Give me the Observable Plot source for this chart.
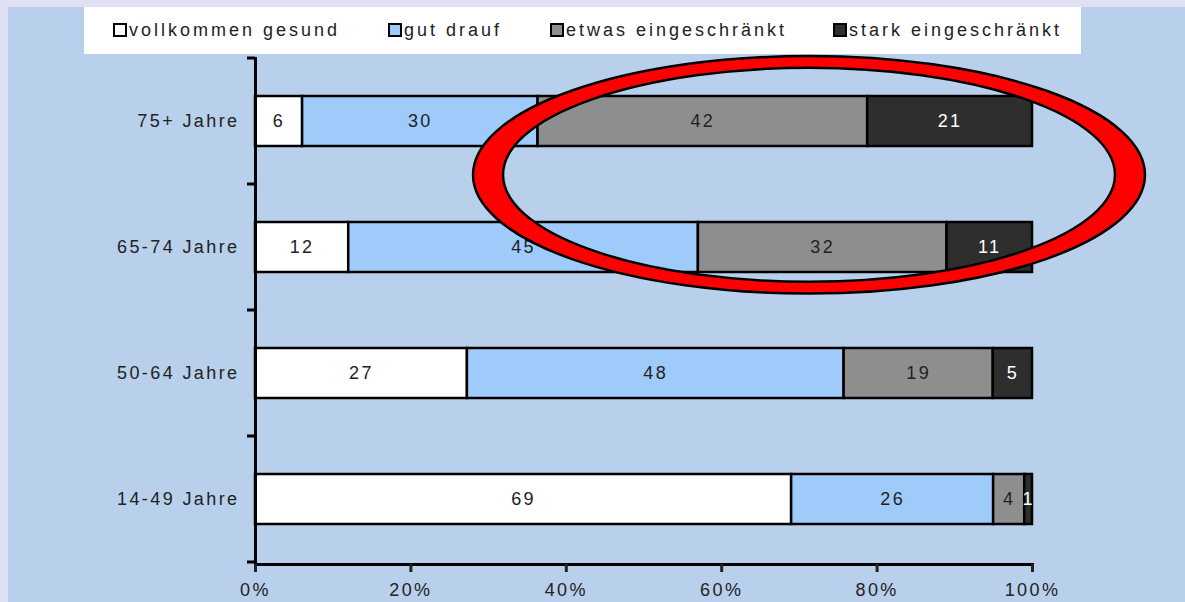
<!DOCTYPE html>
<html>
<head>
<meta charset="utf-8">
<script src="https://cdn.jsdelivr.net/npm/d3@7"></script>
<script src="https://cdn.jsdelivr.net/npm/@observablehq/plot@0.6"></script>
<style>
  html, body { margin: 0; padding: 0; }
  body { width: 1185px; height: 602px; overflow: hidden; background: #dfe0f2; }
  #wrap { position: absolute; left: 8px; top: 7px; width: 1177px; height: 595px; background: #b8d0eb; }
  #chart { position: absolute; left: 0; top: 0; }
  #legend { position: absolute; left: 84px; top: 7px; width: 997px; height: 47px; background: #ffffff;
            font-family: "Liberation Sans", Arial, sans-serif; font-size: 18px; color: #222; letter-spacing: 3px; }
  .item { position: absolute; top: 13px; height: 20px; line-height: 20px; white-space: nowrap; }
  .sw { display: inline-block; width: 10px; height: 10px; border: 2px solid #000; vertical-align: -1px; margin-right: 2px; }
</style>
</head>
<body>
<div id="wrap"></div>
<div id="chart"></div>
<div id="legend"></div>
<script>
const ages = ["75+ Jahre", "65-74 Jahre", "50-64 Jahre", "14-49 Jahre"];
const categories = ["vollkommen gesund", "gut drauf", "etwas eingeschränkt", "stark eingeschränkt"];
const vollkommen = [6, 12, 27, 69];
const gutDrauf = [30, 45, 48, 26];
const etwas = [42, 32, 19, 4];
const stark = [21, 11, 5, 1];
const colors = ["#ffffff", "#9fcbfb", "#8e8e8e", "#2e2e2e"];
const xTicks = [0, 0.2, 0.4, 0.6, 0.8, 1];
// highlight ring annotation (data units: x share, y in band steps)
const ringCenterX = [0.713];
const ringRadiusX = [0.4324, 0.3938];
const ringRadiusY = [0.943, 0.849];

const series = [vollkommen, gutDrauf, etwas, stark];
const data = ages.flatMap((a, i) => categories.map((c, j) => ({age: a, cat: c, value: series[j][i]})));
const DARK = "stark eingeschränkt";

const font = "'Liberation Sans', Arial, sans-serif";
const chart = Plot.plot({
  width: 1185, height: 602,
  marginTop: 57, marginBottom: 38, marginLeft: 255, marginRight: 153,
  style: {background: "transparent", fontFamily: font, fontSize: "18px", letterSpacing: "2.4px", color: "#222"},
  x: {domain: [0, 1], label: null},
  y: {domain: ages, paddingInner: 0.6, paddingOuter: 0.3, label: null},
  color: {domain: categories, range: colors},
  marks: [
    Plot.barX(data, {x: "value", y: "age", fill: "cat", offset: "normalize", order: categories, stroke: "#000", strokeWidth: 2.5}),
    Plot.text(data, Plot.stackX({x: "value", y: "age", z: "cat", text: d => d.cat !== DARK ? d.value : "", offset: "normalize", order: categories, fill: "#222", fontSize: 18})),
    Plot.text(data, Plot.stackX({x: "value", y: "age", z: "cat", text: d => d.cat === DARK ? d.value : "", offset: "normalize", order: categories, fill: "#fff", fontSize: 18})),
    Plot.ruleX([0], {stroke: "#000", strokeWidth: 3}),
    Plot.frame({anchor: "bottom", stroke: "#000", strokeWidth: 3}),
    Plot.axisX({ticks: xTicks, tickFormat: d3.format(".0%"), tickSize: 8, tickPadding: 11, strokeWidth: 3, fontSize: 18, fill: "#222", label: null}),
    Plot.axisY({tickSize: 0, tickPadding: 16, fontSize: 18, fill: "#222", label: null})
  ]
});
document.getElementById("chart").appendChild(chart);

// boundary ticks and highlight ring, positioned through Plot's own scales
const xs = chart.scale("x"), ys = chart.scale("y");
const step = ys.step, bw = ys.bandwidth;
const svg = d3.select(chart);
const bounds = ages.map(a => ys.apply(a) + bw / 2 - step / 2).concat([ys.apply(ages[ages.length - 1]) + bw / 2 + step / 2]);
svg.append("g").selectAll("line").data(bounds).join("line")
  .attr("x1", xs.apply(0) - 8).attr("x2", xs.apply(0))
  .attr("y1", d => d).attr("y2", d => d)
  .attr("stroke", "#000").attr("stroke-width", 3);

const cx = xs.apply(ringCenterX[0]);
const cy = (ys.apply(ages[0]) + ys.apply(ages[1])) / 2 + bw / 2 - 0.073 * step;
const rxo = xs.apply(ringCenterX[0] + ringRadiusX[0]) - cx, rxi = xs.apply(ringCenterX[0] + ringRadiusX[1]) - cx;
const ryo = ringRadiusY[0] * step, ryi = ringRadiusY[1] * step;
const ell = (rx, ry) => `M${cx - rx},${cy}A${rx},${ry} 0 1,0 ${cx + rx},${cy}A${rx},${ry} 0 1,0 ${cx - rx},${cy}Z`;
svg.append("path").attr("d", ell(rxo, ryo) + ell(rxi, ryi))
  .attr("fill", "#ff0000").attr("fill-rule", "evenodd").attr("stroke", "#000").attr("stroke-width", 2.5);

// legend
const legendX = [29, 304, 466, 749];
const legend = document.getElementById("legend");
categories.forEach((c, i) => {
  const it = document.createElement("div");
  it.className = "item";
  it.style.left = legendX[i] + "px";
  it.innerHTML = `<span class="sw" style="background:${colors[i]}"></span>${c}`;
  legend.appendChild(it);
});
</script>
</body>
</html>
